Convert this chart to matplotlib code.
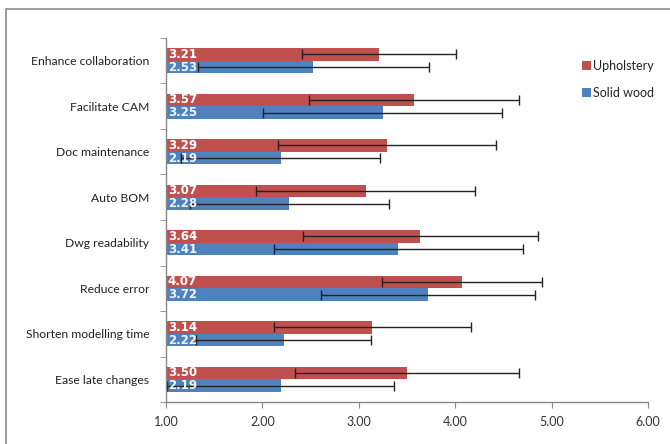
import matplotlib
matplotlib.use("Agg")
import matplotlib.pyplot as plt
import numpy as np
from matplotlib.patches import Rectangle

plt.rcParams["font.family"] = ["Lato", "DejaVu Sans"]

categories = ["Enhance collaboration", "Facilitate CAM", "Doc maintenance", "Auto BOM",
              "Dwg readability", "Reduce error", "Shorten modelling time", "Ease late changes"]
upholstery = [3.21, 3.57, 3.29, 3.07, 3.64, 4.07, 3.14, 3.50]
upholstery_sd = [0.80, 1.09, 1.13, 1.14, 1.22, 0.83, 1.02, 1.16]
solid_wood = [2.53, 3.25, 2.19, 2.28, 3.41, 3.72, 2.22, 2.19]
solid_wood_sd = [1.20, 1.24, 1.03, 1.03, 1.29, 1.11, 0.91, 1.18]
xticks = [1.0, 2.0, 3.0, 4.0, 5.0, 6.0]

red = "#C0504D"
blue = "#4F81BD"
axcol = "#888888"

fig = plt.figure(figsize=(6.7, 4.44), dpi=100)
fig.patches.append(Rectangle((6 / 670, -0.1), 1.2, 1 - 9 / 444 + 0.1, transform=fig.transFigure,
                             fill=False, edgecolor="#8c8c8c", linewidth=1.2))
ax = fig.add_axes([166 / 670, 42 / 444, (648 - 166) / 670, (402 - 38) / 444])

n = len(categories)
pos = np.arange(n)[::-1].astype(float)  # top category at highest y
h = 0.275
y_up = pos + h / 2
y_sw = pos - h / 2

ax.barh(y_up, np.array(upholstery) - 1, left=1, height=h, color=red, label="Upholstery")
ax.barh(y_sw, np.array(solid_wood) - 1, left=1, height=h, color=blue, label="Solid wood")
ekw = dict(fmt="none", ecolor="#222222", elinewidth=1.0, capsize=3.5, capthick=1.0)
ax.errorbar(upholstery, y_up, xerr=upholstery_sd, **ekw)
ax.errorbar(solid_wood, y_sw, xerr=solid_wood_sd, **ekw)

for yv, v in zip(y_up, upholstery):
    ax.text(1.02, yv, f"{v:.2f}", color="white", fontsize=8.5, fontweight="bold",
            family="DejaVu Sans", va="center", ha="left", zorder=5)
for yv, v in zip(y_sw, solid_wood):
    ax.text(1.02, yv, f"{v:.2f}", color="#eef3fa", fontsize=8.5, fontweight="bold",
            family="DejaVu Sans", va="center", ha="left", zorder=5)

ax.set_xlim(1, 6)
ax.set_ylim(-0.5, n - 0.5)
ax.set_xticks(xticks)
ax.set_xticklabels([f"{t:.2f}" for t in xticks], fontsize=9, color="#333333")
ax.set_yticks(pos)
ax.set_yticklabels(categories, fontsize=8.7, color="#222222")
ax.set_yticks(np.arange(-0.5, n, 1.0), minor=True)
ax.tick_params(axis="y", which="major", length=0, pad=12)
ax.tick_params(axis="y", which="minor", length=4, color=axcol, direction="out")
ax.tick_params(axis="x", which="major", length=4, color=axcol, direction="out", pad=6)
for s in ["top", "right"]:
    ax.spines[s].set_visible(False)
for s in ["left", "bottom"]:
    ax.spines[s].set_color(axcol)
    ax.spines[s].set_linewidth(1.0)

handles, labels = ax.get_legend_handles_labels()
leg = fig.legend(handles, labels, loc="upper left", bbox_to_anchor=(571 / 670, 1 - 49 / 444),
                 frameon=False, fontsize=9, handlelength=0.7, handleheight=0.7,
                 handletextpad=0.15, labelspacing=1.15)
for t in leg.get_texts():
    t.set_color("#222222")

fig.savefig("out.png", dpi=100)
